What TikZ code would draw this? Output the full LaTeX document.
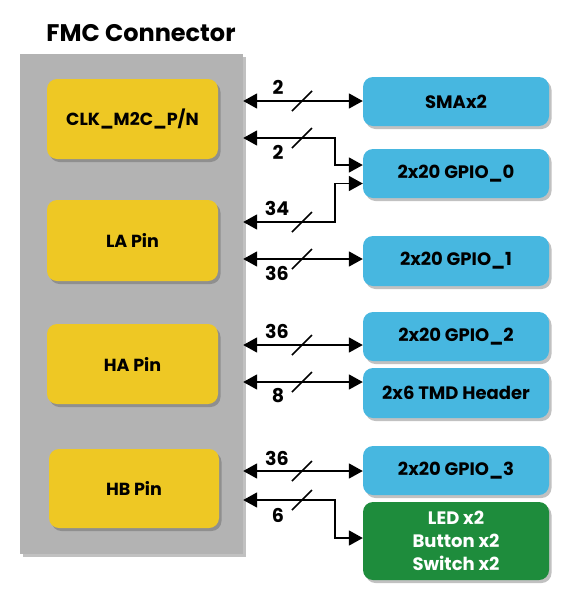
\documentclass[tikz,border=0pt]{standalone}
\usepackage{fontspec}
\setmainfont{Poppins}
\usetikzlibrary{shadows,arrows.meta}
\definecolor{fmcgray}{HTML}{B3B3B3}
\definecolor{pinyellow}{HTML}{EEC824}
\definecolor{ioblue}{HTML}{47B7E0}
\definecolor{iogreen}{HTML}{1E8C3C}
\tikzset{
  shad/.style={drop shadow={shadow xshift=2.5pt,shadow yshift=-3pt,opacity=.35,fill=black!70}},
  pinbox/.style={shad,fill=pinyellow,rounded corners=10pt,minimum width=171pt,minimum height=80pt,inner sep=0pt,font=\bfseries\fontsize{17.5}{20}\selectfont},
  iobox/.style={shad,fill=ioblue,rounded corners=10pt,minimum width=186pt,minimum height=49pt,inner sep=0pt,font=\bfseries\fontsize{18}{20}\selectfont},
  bus/.style={line width=1.8pt,{Triangle[length=14pt,width=15pt]}-{Triangle[length=14pt,width=15pt]}},
  slash/.style={line width=1.6pt},
  lab/.style={font=\bfseries\fontsize{19}{20}\selectfont,inner sep=0pt}
}
\begin{document}
\begin{tikzpicture}[x=1pt,y=-1pt]
\useasboundingbox (0,0) rectangle (561,600);
% FMC connector block
\node[shad,fill=fmcgray,minimum width=223pt,minimum height=500pt,inner sep=0pt] (fmc) at (131.5,304) {};
\node[font=\bfseries\fontsize{24}{28}\selectfont,anchor=base] (title) at (141,41) {FMC Connector};
% pin groups
\node[pinbox] (clk) at (132.5,119) {CLK\_M2C\_P/N};
\node[pinbox,minimum height=81pt] (la) at (132.5,240.5) {LA Pin};
\node[pinbox] (ha) at (132.5,364) {HA Pin};
\node[pinbox,minimum width=170pt,minimum height=79pt] (hb) at (134,488.5) {HB Pin};
% peripherals
\node[iobox] (sma) at (456,101.5) {SMAx2};
\node[iobox] (g0) at (456,173.5) {2x20 GPIO\_0};
\node[iobox,minimum height=50pt] (g1) at (456,261) {2x20 GPIO\_1};
\node[iobox] (g2) at (456,336.5) {2x20 GPIO\_2};
\node[iobox,minimum height=50pt] (tmd) at (456,393) {2x6 TMD Header};
\node[iobox] (g3) at (456,470.5) {2x20 GPIO\_3};
\node[iobox,fill=iogreen,minimum height=78pt,align=center,text=white,font=\bfseries\fontsize{18}{23}\selectfont] (led) at (456,541) {LED x2\\Button x2\\Switch x2};
% connector end points on the FMC block edge
\coordinate (p1) at (fmc.east |- 0,101);
\coordinate (p2) at (fmc.east |- 0,138);
\coordinate (p3) at (fmc.east |- 0,222);
\coordinate (p4) at (fmc.east |- 0,259);
\coordinate (p5) at (fmc.east |- 0,345);
\coordinate (p6) at (fmc.east |- 0,382);
\coordinate (p7) at (fmc.east |- 0,471);
\coordinate (p8) at (fmc.east |- 0,500);
% buses
\draw[bus] (p1) -- (p1 -| sma.west);
\draw[bus] (p2) -- (335,138) -- (335,165) -- (g0.west |- 0,165);
\draw[bus] (p3) -- (335,222) -- (335,183.5) -- (g0.west |- 0,183.5);
\draw[bus] (p4) -- (p4 -| g1.west);
\draw[bus] (p5) -- (p5 -| g2.west);
\draw[bus] (p6) -- (p6 -| tmd.west);
\draw[bus] (p7) -- (p7 -| g3.west);
\draw[bus] (p8) -- (335,500) -- (335,538) -- (led.west |- 0,538);
% width slashes
\foreach \yy in {101,138,222,259,345,382,471,500}
  \draw[slash] (292,\yy+10) -- (312,\yy-10);
% bus widths
\node[lab] (w1) at (278,87) {2};
\node[lab] (w2) at (278,152) {2};
\node[lab] (w3) at (277,208) {34};
\node[lab] (w4) at (277,273) {36};
\node[lab] (w5) at (277,331) {36};
\node[lab] (w6) at (278,396) {8};
\node[lab] (w7) at (277,458) {36};
\node[lab] (w8) at (278,515) {6};
\end{tikzpicture}
\end{document}
